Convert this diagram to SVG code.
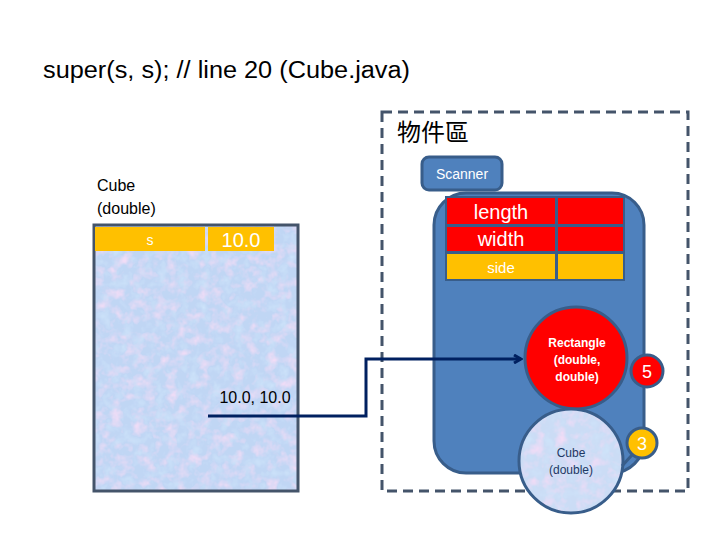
<svg xmlns="http://www.w3.org/2000/svg" width="720" height="540" viewBox="0 0 720 540">
<defs>
<filter id="tex" x="0" y="0" width="100%" height="100%">
<feTurbulence type="fractalNoise" baseFrequency="0.09" numOctaves="3" seed="4" result="n"/>
<feColorMatrix in="n" type="matrix" values="0 0 0 0 0.88  0 0 0 0 0.72  0 0 0 0 0.92  1.6 -1.4 0 0 0" result="pink"/>
<feColorMatrix in="n" type="matrix" values="0 0 0 0 0.62  0 0 0 0 0.78  0 0 0 0 0.96  -1.5 0 1.5 0 0" result="blu"/>
<feMerge result="m"><feMergeNode in="SourceGraphic"/><feMergeNode in="pink"/><feMergeNode in="blu"/></feMerge>
<feComposite in="m" in2="SourceGraphic" operator="in"/>
</filter>
<marker id="arr" markerWidth="10" markerHeight="10" refX="8" refY="5" orient="auto" markerUnits="userSpaceOnUse">
<path d="M1,1 L8,5 L1,9" fill="none" stroke="#002060" stroke-width="3"/>
</marker>
<style>
text{font-family:"Liberation Sans","Noto Sans CJK TC",sans-serif;}
.w{fill:#fff;}
.ora{fill:#ffc000;}
.red{fill:#ff0000;}
.blue{fill:#4f81bd;stroke:#385d8a;stroke-width:3;}
</style>
</defs>
<rect width="720" height="540" fill="#fff"/>
<text x="43" y="78" font-size="23" textLength="367" lengthAdjust="spacingAndGlyphs" fill="#000">super(s, s); // line 20 (Cube.java)</text>

<g id="cube-frame">
<text x="97" y="191" font-size="16" fill="#000">Cube</text>
<text x="97" y="214" font-size="16" fill="#000">(double)</text>
<rect x="94" y="225" width="204" height="266" fill="#c0d6f4" filter="url(#tex)"/>
<rect x="94" y="225" width="204" height="266" fill="none" stroke="#44546a" stroke-width="3"/>
<rect x="95" y="227" width="110" height="24" class="ora"/>
<rect x="208" y="227" width="66" height="24" class="ora"/>
<text x="150" y="245" font-size="14" class="w" text-anchor="middle">s</text>
<text x="241" y="247" font-size="20" class="w" text-anchor="middle">10.0</text>
<text x="255" y="403" font-size="16" fill="#000" text-anchor="middle">10.0, 10.0</text>
</g>

<g id="heap">
<rect x="382" y="112" width="306" height="379" fill="none" stroke="#44546a" stroke-width="3" stroke-dasharray="10,6"/>
<text x="397" y="141" font-size="24" fill="#000">物件區</text>
</g>

<g id="scanner">
<rect x="422" y="157" width="80" height="33" rx="7" class="blue"/>
<text x="462" y="179" font-size="14" class="w" text-anchor="middle">Scanner</text>
</g>

<g id="rectangle-obj">
<rect x="434" y="193" width="210" height="280" rx="32" class="blue"/>
<rect x="445" y="196" width="180" height="85" fill="#385d8a"/>
<rect x="447" y="198" width="108" height="26" class="red"/>
<rect x="558" y="198" width="65" height="26" class="red"/>
<rect x="447" y="227" width="108" height="24" class="red"/>
<rect x="558" y="227" width="65" height="24" class="red"/>
<rect x="447" y="254" width="108" height="25" class="ora"/>
<rect x="558" y="254" width="65" height="25" class="ora"/>
<text x="501" y="219" font-size="20" class="w" text-anchor="middle">length</text>
<text x="501" y="246" font-size="20" class="w" text-anchor="middle">width</text>
<text x="501" y="273" font-size="15" class="w" text-anchor="middle">side</text>
</g>

<g id="rect-ctor">
<circle cx="576" cy="358" r="51" fill="#ff0000" stroke="#385d8a" stroke-width="3"/>
<text x="577" y="347" font-size="12" font-weight="bold" class="w" text-anchor="middle">Rectangle</text>
<text x="577" y="364" font-size="12" font-weight="bold" class="w" text-anchor="middle">(double,</text>
<text x="577" y="381" font-size="12" font-weight="bold" class="w" text-anchor="middle">double)</text>
</g>
<g id="badge-5">
<circle cx="647" cy="371" r="16" fill="#ff0000" stroke="#385d8a" stroke-width="3"/>
<text x="647" y="378" font-size="18" class="w" text-anchor="middle">5</text>
</g>

<g id="cube-ctor">
<circle cx="571" cy="461" r="52" fill="#cbdcf5" filter="url(#tex)"/>
<circle cx="571" cy="461" r="52" fill="none" stroke="#385d8a" stroke-width="3"/>
<text x="571" y="457" font-size="12" fill="#1f3864" text-anchor="middle">Cube</text>
<text x="571" y="474" font-size="12" fill="#1f3864" text-anchor="middle">(double)</text>
</g>
<g id="badge-3">
<line x1="632" y1="455" x2="622" y2="466" stroke="#385d8a" stroke-width="3"/>
<circle cx="642" cy="443" r="15" fill="#ffc000" stroke="#385d8a" stroke-width="3"/>
<text x="642" y="450" font-size="18" class="w" text-anchor="middle">3</text>
</g>

<g id="connectors">
<polyline points="208,416 366,416 366,359 521,359" fill="none" stroke="#002060" stroke-width="3" marker-end="url(#arr)"/>
</g>
</svg>
